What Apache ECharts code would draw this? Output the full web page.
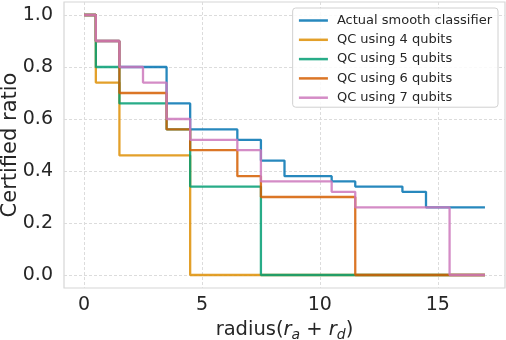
<!DOCTYPE html>
<html>
<head>
<meta charset="utf-8">
<script src="https://cdn.jsdelivr.net/npm/echarts@6/dist/echarts.min.js"></script>
<style>
  html, body { margin: 0; padding: 0; background: #fff; }
  #chart { width: 506px; height: 340px; }
</style>
</head>
<body>
<div id="chart"></div>
<script>
// step breakpoints (x) and the value held from each one (steps-post)
const xActual = [0, 0.5, 1.5, 3.5, 4.5, 6.5, 7.5, 8.5, 10.5, 11.5, 13.5, 14.5, 17];
const yActual = [1.0, 0.9, 0.8, 0.66, 0.56, 0.52, 0.44, 0.38, 0.36, 0.34, 0.32, 0.26, 0.26];

const xQ4 = [0, 0.5, 1.5, 4.5, 17];
const yQ4 = [1.0, 0.74, 0.46, 0.0, 0.0];

const xQ5 = [0, 0.5, 1.5, 3.5, 4.5, 7.5, 17];
const yQ5 = [1.0, 0.8, 0.66, 0.56, 0.34, 0.0, 0.0];

const xQ6 = [0, 0.5, 1.5, 3.5, 4.5, 6.5, 7.5, 11.5, 17];
const yQ6 = [1.0, 0.9, 0.7, 0.56, 0.48, 0.38, 0.3, 0.0, 0.0];

const xQ7 = [0, 0.5, 1.5, 2.5, 3.5, 4.5, 6.5, 7.5, 10.5, 11.5, 15.5, 17];
const yQ7 = [1.0, 0.9, 0.8, 0.74, 0.6, 0.52, 0.48, 0.36, 0.32, 0.26, 0.0, 0.0];

const names = ['Actual smooth classifier', 'QC using 4 qubits', 'QC using 5 qubits',
               'QC using 6 qubits', 'QC using 7 qubits'];
const colors = ['#0173b2', '#de8f05', '#029e73', '#d55e00', '#cc78bc'];

const FONT = '"DejaVu Sans", sans-serif';
const zip = (xs, ys) => xs.map((x, i) => [x, ys[i]]);
const curves = [
  zip(xActual, yActual), zip(xQ4, yQ4), zip(xQ5, yQ5), zip(xQ6, yQ6), zip(xQ7, yQ7)
];

const chart = echarts.init(document.getElementById('chart'), null, { renderer: 'canvas' });

const gridLine = { show: true, showMinLine: false, showMaxLine: false,
                   lineStyle: { color: '#dcdcdc', type: [3, 2], width: 1 } };

chart.setOption({
  animation: false,
  color: colors,
  textStyle: { fontFamily: FONT },
  grid: {
    left: 64, top: 2, width: 441, height: 286,
    outerBoundsMode: 'none',
    containLabel: false,
    show: true, borderColor: '#d6d6d6', borderWidth: 1.2
  },
  legend: {
    orient: 'vertical',
    right: 8, top: 8,
    padding: [6, 6, 3, 5],
    itemWidth: 29, itemHeight: 14, itemGap: 6.3,
    itemStyle: { opacity: 0 },
    lineStyle: { width: 2.5 },
    backgroundColor: 'rgba(255,255,255,0.85)',
    borderColor: '#d0d0d0', borderWidth: 1, borderRadius: 3,
    textStyle: { fontFamily: FONT, fontSize: 13, color: '#262626', padding: [0, 0, 0, 4] },
    data: names
  },
  xAxis: {
    type: 'value',
    min: -0.85, max: 17.85,
    splitNumber: 4,
    axisLine: { show: false },
    axisTick: { show: false },
    axisLabel: { fontSize: 19, color: '#262626', margin: 8,
                 showMinLabel: false, showMaxLabel: false },
    splitLine: gridLine,
    name: '{t|radius(}{i|r}{s|a}{t| + }{i|r}{s|d}{t|)}',
    nameLocation: 'middle',
    nameMoveOverlap: false,
    nameGap: 28.5,
    nameTextStyle: {
      rich: {
        t: { fontFamily: FONT, fontSize: 19.5, color: '#262626', lineHeight: 26 },
        i: { fontFamily: FONT, fontSize: 19.5, fontStyle: 'italic', color: '#262626', lineHeight: 26 },
        s: { fontFamily: FONT, fontSize: 14, fontStyle: 'italic', color: '#262626',
             lineHeight: 15, verticalAlign: 'bottom' }
      }
    }
  },
  yAxis: {
    type: 'value',
    min: -0.05, max: 1.05,
    splitNumber: 5,
    axisLine: { show: false },
    axisTick: { show: false },
    axisLabel: { fontSize: 19, color: '#262626', margin: 11,
                 showMinLabel: false, showMaxLabel: false,
                 formatter: v => v.toFixed(1) },
    splitLine: gridLine,
    name: 'Certified ratio',
    nameLocation: 'middle',
    nameMoveOverlap: false,
    nameGap: 43,
    nameTextStyle: { fontFamily: FONT, fontSize: 21, color: '#262626' }
  },
  series: curves.map((d, i) => ({
    name: names[i],
    type: 'line',
    step: 'end',
    data: d,
    symbol: 'none',
    lineStyle: { width: 2.3, opacity: 0.85 },
    emphasis: { disabled: true }
  }))
});
</script>
</body>
</html>
